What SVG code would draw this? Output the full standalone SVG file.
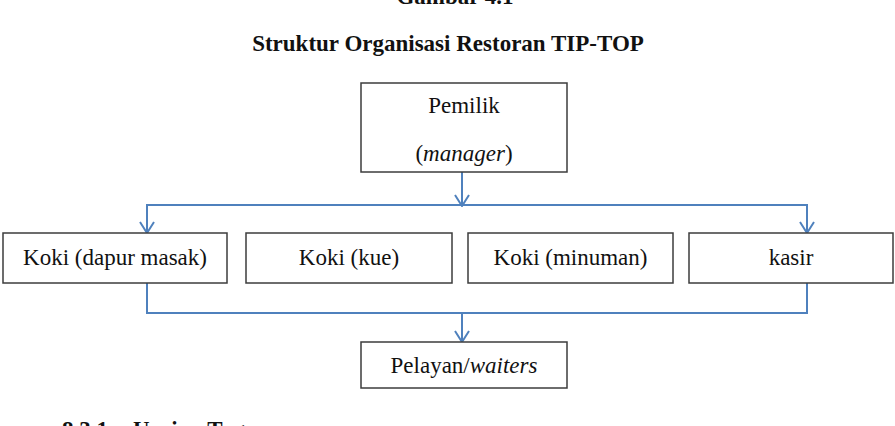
<svg xmlns="http://www.w3.org/2000/svg" width="895" height="426" viewBox="0 0 895 426">
<defs>
<style>
.bg{fill:#ffffff}
.box{fill:#ffffff;stroke:#3c3c3c;stroke-width:1.5}
.t{font-family:"Liberation Serif","Times New Roman",serif;font-size:23px;fill:#111111}
.b{font-weight:bold}
.c{text-anchor:middle}
.i{font-style:italic}
.ln{fill:none;stroke:#4f81bd;stroke-width:2}
</style>
<marker id="arr" viewBox="0 0 14 16" refX="13" refY="8" markerWidth="14" markerHeight="16" markerUnits="userSpaceOnUse" orient="auto-start-reverse">
<path d="M2,1 L13,8 L2,15" fill="none" stroke="#4f81bd" stroke-width="2"/>
</marker>
</defs>
<rect class="bg" x="0" y="0" width="895" height="426"/>
<text class="t b c" x="455" y="4">Gambar  4.1</text>
<text class="t b c" x="448" y="51">Struktur Organisasi Restoran TIP-TOP</text>
<g id="connectors">
<path class="ln" d="M462,172 L462,206" marker-end="url(#arr)"/>
<path class="ln" d="M147,233 L147,205 L807,205 L807,233" marker-start="url(#arr)" marker-end="url(#arr)"/>
<path class="ln" d="M147,283 L147,313 L807,313 L807,283"/>
<path class="ln" d="M462,313 L462,342" marker-end="url(#arr)"/>
</g>
<g id="pemilik">
<rect class="box" x="361" y="83" width="206" height="89"/>
<text class="t c" x="464" y="113">Pemilik</text>
<text class="t c" x="464" y="161">(<tspan class="i">manager</tspan>)</text>
</g>
<g id="koki-dapur">
<rect class="box" x="3" y="233" width="224" height="50"/>
<text class="t c" x="115" y="265">Koki (dapur masak)</text>
</g>
<g id="koki-kue">
<rect class="box" x="246" y="233" width="206" height="50"/>
<text class="t c" x="349" y="265">Koki (kue)</text>
</g>
<g id="koki-minuman">
<rect class="box" x="468" y="233" width="205" height="50"/>
<text class="t c" x="570.5" y="265">Koki (minuman)</text>
</g>
<g id="kasir">
<rect class="box" x="689" y="233" width="204" height="50"/>
<text class="t c" x="791" y="265">kasir</text>
</g>
<g id="pelayan">
<rect class="box" x="361" y="342" width="206" height="46"/>
<text class="t c" x="464" y="373">Pelayan/<tspan class="i">waiters</tspan></text>
</g>
<text class="t b" x="62" y="437">8.3.1</text>
<text class="t b" x="133" y="437">Uraian Tugas</text>
</svg>
